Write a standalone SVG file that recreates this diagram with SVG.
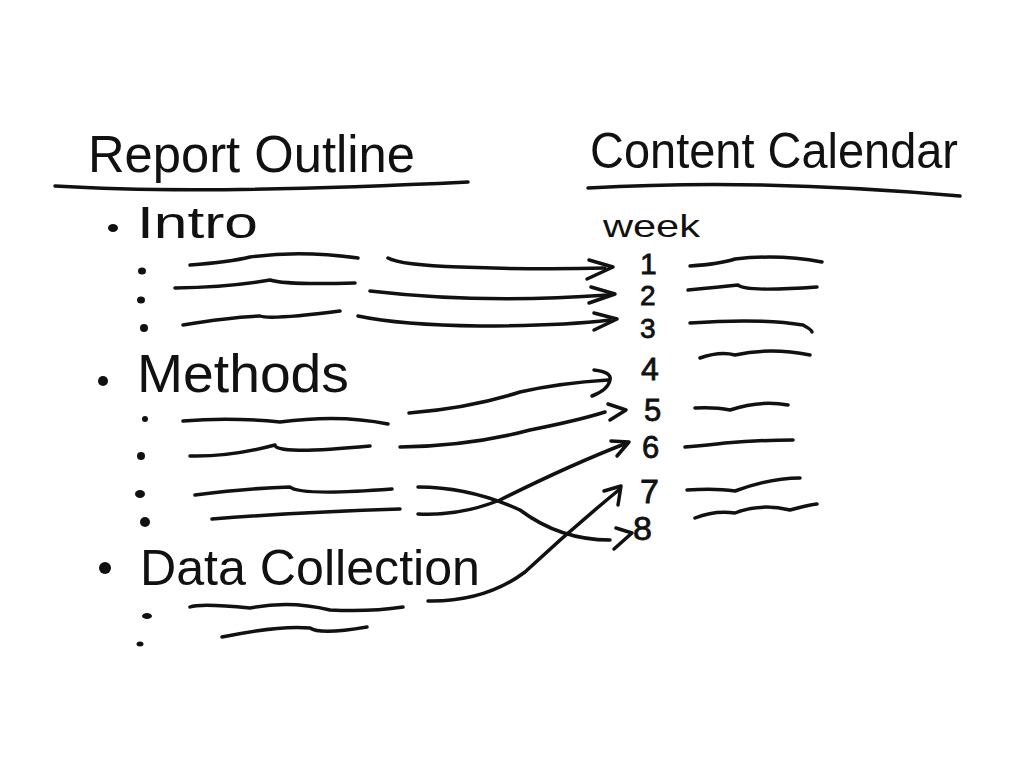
<svg xmlns="http://www.w3.org/2000/svg" width="1024" height="768" viewBox="0 0 1024 768">
<style>
.t{font-family:"Liberation Sans","DejaVu Sans",sans-serif;fill:#111;}
.n{font-family:"Liberation Sans","DejaVu Sans",sans-serif;fill:#111;stroke:#111;stroke-width:0.8;}
.s{fill:none;stroke:#111;stroke-width:3.5;stroke-linecap:round;stroke-linejoin:round;}
.d{fill:#111;}
</style>
<rect width="1024" height="768" fill="#fff"/>
<g id="outline-title">
<text class="t" x="88" y="172" font-size="52" textLength="327" lengthAdjust="spacingAndGlyphs">Report Outline</text>
<path class="s" d="M55,186 Q200,195 468,182"/>
</g>
<g id="calendar-title">
<text class="t" x="590" y="168" font-size="50" textLength="368" lengthAdjust="spacingAndGlyphs">Content Calendar</text>
<path class="s" d="M588,188 Q760,178 960,196"/>
<text class="t" x="603" y="237" font-size="32" textLength="97" lengthAdjust="spacingAndGlyphs">week</text>
</g>
<g id="intro">
<ellipse class="d" cx="113" cy="228" rx="5" ry="4"/>
<text class="t" x="137" y="238" font-size="44" textLength="121" lengthAdjust="spacingAndGlyphs">Intro</text>
<ellipse class="d" cx="142" cy="271" rx="4" ry="3.5"/>
<ellipse class="d" cx="141" cy="300" rx="4" ry="3.5"/>
<ellipse class="d" cx="144" cy="328" rx="4" ry="4"/>
<path class="s" d="M190,265 Q230,262 250,257 Q300,250 358,258"/>
<path class="s" d="M175,288 Q230,287 270,280 Q285,285 355,283"/>
<path class="s" d="M183,325 Q230,317 260,316 Q270,320 340,311"/>
</g>
<g id="methods">
<ellipse class="d" cx="103" cy="381" rx="5" ry="5"/>
<text class="t" x="137" y="392" font-size="54" textLength="212" lengthAdjust="spacingAndGlyphs">Methods</text>
<ellipse class="d" cx="145" cy="419" rx="3" ry="3"/>
<ellipse class="d" cx="141" cy="456" rx="4" ry="4"/>
<ellipse class="d" cx="140" cy="494" rx="5" ry="4"/>
<ellipse class="d" cx="145" cy="522" rx="5" ry="5"/>
<path class="s" d="M183,421 Q230,417 280,422 Q340,414 388,424"/>
<path class="s" d="M190,456 Q230,457 275,445 Q275,455 370,446"/>
<path class="s" d="M195,495 Q250,488 290,487 Q300,496 392,489"/>
<path class="s" d="M212,519 Q300,512 400,509"/>
</g>
<g id="data-collection">
<ellipse class="d" cx="105" cy="568" rx="6" ry="6"/>
<text class="t" x="140" y="585" font-size="50" textLength="340" lengthAdjust="spacingAndGlyphs">Data Collection</text>
<ellipse class="d" cx="147" cy="616" rx="5" ry="3"/>
<ellipse class="d" cx="140" cy="644" rx="3.5" ry="2.5"/>
<path class="s" d="M190,607 Q200,603 250,608 Q290,600 330,610 Q370,612 403,607"/>
<path class="s" d="M222,637 Q280,625 310,628 Q320,635 367,627"/>
</g>
<g id="weeks">
<text class="n" x="640" y="274" font-size="30">1</text>
<text class="n" x="640" y="305" font-size="28">2</text>
<text class="n" x="640" y="338" font-size="28">3</text>
<text class="n" x="641" y="380" font-size="32">4</text>
<text class="n" x="644" y="421" font-size="31">5</text>
<text class="n" x="642" y="458" font-size="31">6</text>
<text class="n" x="640" y="503" font-size="34">7</text>
<text class="n" x="633" y="540" font-size="34">8</text>
<path class="s" d="M690,266 Q720,264 735,259 Q780,254 822,262"/>
<path class="s" d="M688,290 Q720,287 738,285 Q745,292 817,287"/>
<path class="s" d="M690,323 Q760,318 803,325 Q812,330 812,332"/>
<path class="s" d="M700,358 Q720,351 735,355 Q770,347 810,355"/>
<path class="s" d="M695,408 Q715,407 730,410 Q760,400 788,405"/>
<path class="s" d="M685,447 Q710,445 725,443 Q760,440 793,440"/>
<path class="s" d="M687,490 Q715,488 735,491 Q770,478 800,478"/>
<path class="s" d="M695,518 Q715,510 735,513 Q760,503 790,510 Q808,505 817,504"/>
</g>
<g id="connectors">
<path class="s" d="M388,258 Q400,265 460,267 Q540,270 605,268"/>
<path class="s" d="M589,260 L613,267 L587,279"/>
<path class="s" d="M370,291 Q480,304 608,295"/>
<path class="s" d="M591,287 L615,294 L589,303"/>
<path class="s" d="M358,316 Q400,325 480,326 Q560,326 610,320"/>
<path class="s" d="M594,313 L617,319 L594,330"/>
<path class="s" d="M409,413 Q470,408 520,392 Q560,383 608,380"/>
<path class="s" d="M594,370 Q612,372 610,380 Q608,390 592,396"/>
<path class="s" d="M400,447 Q470,446 530,430 Q580,420 605,412"/>
<path class="s" d="M608,404 L626,410 L610,420"/>
<path class="s" d="M418,514 Q460,516 500,500 Q570,465 627,443"/>
<path class="s" d="M611,441 L629,442 L617,456"/>
<path class="s" d="M418,487 Q470,487 520,510 Q560,540 610,540"/>
<path class="s" d="M616,528 L632,533 L614,549"/>
<path class="s" d="M428,601 Q485,602 525,572 Q570,530 620,489"/>
<path class="s" d="M604,491 L621,486 L618,505"/>
</g>
</svg>
